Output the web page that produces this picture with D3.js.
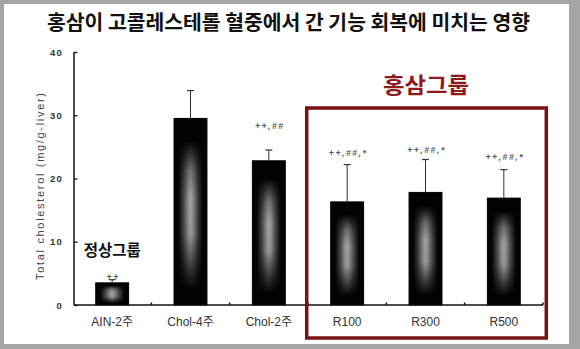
<!DOCTYPE html>
<html><head><meta charset="utf-8">
<script src="https://cdn.jsdelivr.net/npm/d3@7"></script>
<style>html,body{margin:0;padding:0;background:#a5a5a5;}svg{display:block;}</style>
</head><body>
<script>
const categories = ["AIN-2주", "Chol-4주", "Chol-2주", "R100", "R300", "R500"];
const means = [3.5, 29.5, 22.8, 16.3, 17.8, 16.9];
const sds = [0.5, 4.4, 1.7, 5.9, 5.2, 4.5];
const sigLabels = ["++", "", "++,##", "++,##,*", "++,##,*", "++,##,*"];
const sigLevels = [4.4, null, 28.3, 24.1, 24.5, 23.4];
const yTicks = [0, 10, 20, 30, 40];
const title = "홍삼이 고콜레스테롤 혈중에서 간 기능 회복에 미치는 영향";
const yLabel = "Total cholesterol (mg/g-liver)";
const normalGroupLabel = "정상그룹";
const ginsengGroupLabel = "홍삼그룹";
const ginsengGroup = ["R100", "R300", "R500"];

const W = 580, H = 349;
const svg = d3.select("body").append("svg").attr("width", W).attr("height", H);

// frame
svg.append("rect").attr("x", 0).attr("y", 0).attr("width", W).attr("height", H).attr("fill", "#a5a5a5");
svg.append("rect").attr("x", 4).attr("y", 4).attr("width", 565).attr("height", 340).attr("fill", "#fff");

const x = d3.scaleBand().domain(categories).range([73, 543]).paddingInner(0.58).paddingOuter(0.29);
const y = d3.scaleLinear().domain([0, 40]).range([305, 52]);

// glow gradients
const defs = svg.append("defs");
const hg = defs.append("linearGradient").attr("id", "hglow").attr("x1", 0).attr("x2", 1).attr("y1", 0).attr("y2", 0);
[[0, 0], [0.14, 0.03], [0.3, 0.45], [0.42, 0.85], [0.5, 1], [0.58, 0.85], [0.7, 0.45], [0.86, 0.03], [1, 0]]
  .forEach(s => hg.append("stop").attr("offset", s[0]).attr("stop-color", "#a2a2a2").attr("stop-opacity", s[1]));
const vg = defs.append("linearGradient").attr("id", "vglow").attr("x1", 0).attr("x2", 0).attr("y1", 0).attr("y2", 1);
[[0, 0], [0.12, 0], [0.28, 0.7], [0.42, 1], [0.62, 0.95], [0.8, 0.35], [0.92, 0], [1, 0]]
  .forEach(s => vg.append("stop").attr("offset", s[0]).attr("stop-color", "#fff").attr("stop-opacity", s[1]));
const mask = defs.append("mask").attr("id", "vmask").attr("maskContentUnits", "objectBoundingBox");
mask.append("rect").attr("x", 0).attr("y", 0).attr("width", 1).attr("height", 1).attr("fill", "url(#vglow)");

// title
svg.append("text").attr("x", 288.5).attr("y", 21).attr("text-anchor", "middle")
  .attr("dominant-baseline", "central")
  .attr("font-family", "'Noto Sans CJK KR', sans-serif").attr("font-weight", 700)
  .attr("font-size", 20).attr("fill", "#111")
  .attr("textLength", 483).attr("lengthAdjust", "spacingAndGlyphs").text(title);

// bars
const bars = svg.append("g");
categories.forEach((c, i) => {
  const bx = x(c), by = y(means[i]), bw = x.bandwidth(), bh = y(0) - y(means[i]);
  bars.append("rect").attr("x", bx).attr("y", by).attr("width", bw).attr("height", bh)
    .attr("fill", "#020202").attr("stroke", "#000").attr("stroke-width", 1);
  bars.append("rect").attr("x", bx).attr("y", by).attr("width", bw).attr("height", bh)
    .attr("fill", "url(#hglow)").attr("mask", "url(#vmask)");
  const cx = bx + bw / 2;
  const top = y(means[i] + sds[i]);
  bars.append("line").attr("x1", cx).attr("x2", cx).attr("y1", by).attr("y2", top)
    .attr("stroke", "#333").attr("stroke-width", 1);
  bars.append("line").attr("x1", cx - 3.5).attr("x2", cx + 3.5).attr("y1", top).attr("y2", top)
    .attr("stroke", "#333").attr("stroke-width", 1.2);
  if (sigLabels[i]) {
    svg.append("text").attr("x", cx + 1).attr("y", y(sigLevels[i])).attr("text-anchor", "middle")
      .attr("dominant-baseline", "central")
      .attr("font-family", "'Liberation Sans', Arial, sans-serif").attr("font-style", "italic")
      .attr("font-weight", 700)
      .attr("font-size", 8.5).attr("fill", "#555").attr("letter-spacing", 1.6).text(sigLabels[i]);
  }
});

// y axis
const yAxis = d3.axisLeft(y).tickValues(yTicks).tickSize(-3.5).tickPadding(11);
const ya = svg.append("g").attr("transform", "translate(74,0)").call(yAxis);
ya.select(".domain").attr("stroke", "#111").attr("stroke-width", 1.5).attr("d", "M0,52V305");
ya.selectAll(".tick line").attr("stroke", "#111").attr("stroke-width", 1.3);
ya.selectAll(".tick text").attr("font-family", "'Liberation Sans', Arial, sans-serif")
  .attr("font-size", 9.5).attr("font-weight", 700).attr("fill", "#333").attr("letter-spacing", 1.2);

// x axis
const xa = svg.append("g").attr("transform", "translate(0,305)");
xa.append("line").attr("x1", 74).attr("x2", 543).attr("y1", 0).attr("y2", 0)
  .attr("stroke", "#111").attr("stroke-width", 1.5);
categories.forEach((c, i) => {
  const bx = x(c) + x.bandwidth() + x.step() * x.paddingInner() / 2;
  xa.append("line").attr("x1", bx).attr("x2", bx).attr("y1", 0).attr("y2", -2.5)
    .attr("stroke", "#111").attr("stroke-width", 1.5);
  xa.append("text").attr("x", x(c) + x.bandwidth() / 2).attr("y", 17)
    .attr("text-anchor", "middle").attr("dominant-baseline", "central")
    .attr("font-family", "'Liberation Sans', Arial, 'Noto Sans CJK KR', sans-serif")
    .attr("font-size", 12).attr("fill", "#333").text(c);
});

// y label
svg.append("text").attr("transform", "translate(40,186.5) rotate(-90)")
  .attr("text-anchor", "middle").attr("dominant-baseline", "central")
  .attr("font-family", "'Liberation Sans', Arial, sans-serif").attr("font-size", 11)
  .attr("fill", "#444").attr("textLength", 187).attr("lengthAdjust", "spacing").text(yLabel);

// normal group label
svg.append("text").attr("x", x(categories[0]) + x.bandwidth() / 2).attr("y", 249)
  .attr("text-anchor", "middle").attr("dominant-baseline", "central")
  .attr("font-family", "'Noto Sans CJK KR', sans-serif").attr("font-weight", 700)
  .attr("font-size", 15.5).attr("fill", "#111").text(normalGroupLabel);

// ginseng group box
const gx0 = x(ginsengGroup[0]) - 24, gx1 = x(ginsengGroup[2]) + x.bandwidth() + 26;
svg.append("rect").attr("x", gx0).attr("y", 108).attr("width", gx1 - gx0).attr("height", 230)
  .attr("fill", "none").attr("stroke", "#7a1214").attr("stroke-width", 3.5);
svg.append("text").attr("x", (gx0 + gx1) / 2 - 0.5).attr("y", 82.5)
  .attr("text-anchor", "middle").attr("dominant-baseline", "central")
  .attr("font-family", "'Noto Sans CJK KR', sans-serif").attr("font-weight", 700)
  .attr("font-size", 22).attr("fill", "#8e1a1d").attr("textLength", 86)
  .attr("lengthAdjust", "spacingAndGlyphs").text(ginsengGroupLabel);
</script>
</body></html>
